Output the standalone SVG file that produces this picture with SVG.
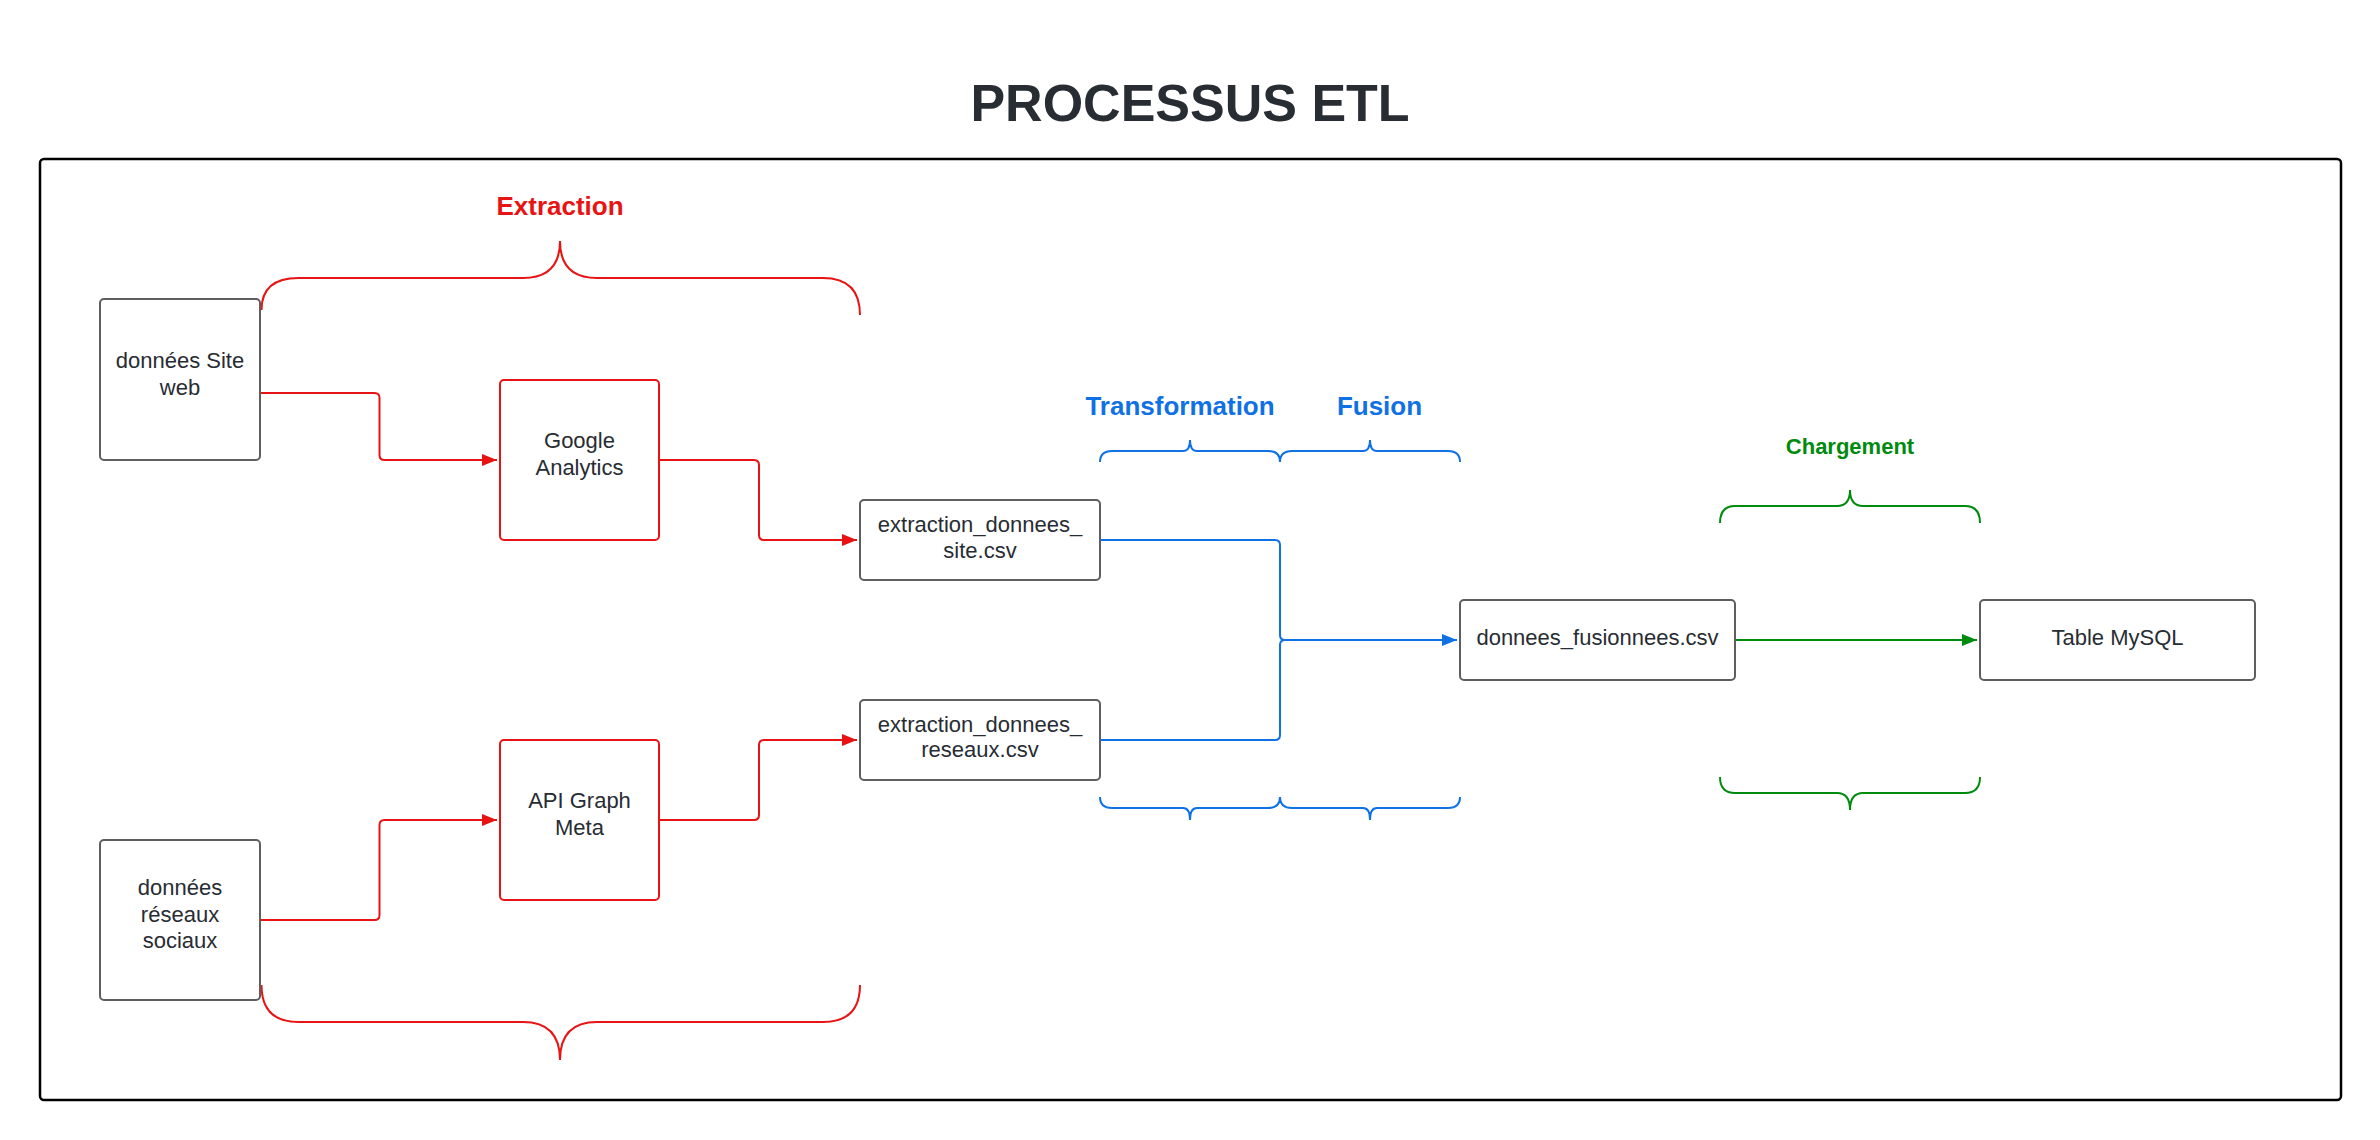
<svg xmlns="http://www.w3.org/2000/svg" width="2380" height="1140" viewBox="0 0 2380 1140">
<style>
text{font-family:"Liberation Sans",Arial,sans-serif}
.nt{font-size:22px;fill:#282c33;text-anchor:middle}
.box{fill:#fff;stroke:#5e5e5e;stroke-width:2}
.rbox{fill:#fff;stroke:#e81313;stroke-width:2}
.r{fill:none;stroke:#e81313;stroke-width:2}
.b{fill:none;stroke:#1071e5;stroke-width:2}
.g{fill:none;stroke:#008a0e;stroke-width:2}
.lbl{font-weight:bold;text-anchor:middle}
</style>
<defs>
<marker id="ar" viewBox="0 0 15 12" refX="15" refY="6" markerWidth="15" markerHeight="12" markerUnits="userSpaceOnUse" orient="auto"><path d="M0,0 L15,6 L0,12 z" fill="#e81313"/></marker>
<marker id="ab" viewBox="0 0 15 12" refX="15" refY="6" markerWidth="15" markerHeight="12" markerUnits="userSpaceOnUse" orient="auto"><path d="M0,0 L15,6 L0,12 z" fill="#1071e5"/></marker>
<marker id="ag" viewBox="0 0 15 12" refX="15" refY="6" markerWidth="15" markerHeight="12" markerUnits="userSpaceOnUse" orient="auto"><path d="M0,0 L15,6 L0,12 z" fill="#008a0e"/></marker>
</defs>
<rect width="2380" height="1140" fill="#fff"/>
<text x="1190" y="121" font-size="52" font-weight="bold" fill="#282c33" text-anchor="middle">PROCESSUS ETL</text>
<rect x="40" y="159" width="2301" height="941" rx="4" fill="none" stroke="#000" stroke-width="2.5"/>

<g id="labels">
<text class="lbl" x="560" y="215" font-size="26" fill="#e81313">Extraction</text>
<text class="lbl" x="1180" y="415" font-size="26" fill="#1071e5">Transformation</text>
<text class="lbl" x="1379.5" y="415" font-size="26" fill="#1071e5">Fusion</text>
<text class="lbl" x="1850" y="454" font-size="22" fill="#008a0e">Chargement</text>
</g>

<g id="braces">
<path class="r" d="M261.5,310 Q261.5,278 298.5,278 H523 Q560,278 560,241 Q560,278 597,278 H823 Q860,278 860,315"/>
<path class="r" d="M261.5,985 Q261.5,1022 298.5,1022 H523 Q560,1022 560,1060 Q560,1022 597,1022 H823 Q860,1022 860,985"/>
<path class="b" d="M1100,462 Q1100,451 1112,451 H1183 Q1190,451 1190,440 Q1190,451 1197,451 H1268 Q1280,451 1280,462 Q1280,451 1292,451 H1363 Q1370,451 1370,440 Q1370,451 1377,451 H1448 Q1460,451 1460,462"/>
<path class="b" d="M1100,797 Q1100,808 1112,808 H1183 Q1190,808 1190,820 Q1190,808 1197,808 H1268 Q1280,808 1280,797 Q1280,808 1292,808 H1363 Q1370,808 1370,820 Q1370,808 1377,808 H1448 Q1460,808 1460,797"/>
<path class="g" d="M1720,523 Q1720,506 1735,506 H1837 Q1850,506 1850,490 Q1850,506 1863,506 H1965 Q1980,506 1980,523"/>
<path class="g" d="M1720,777 Q1720,793 1735,793 H1837 Q1850,793 1850,810 Q1850,793 1863,793 H1965 Q1980,793 1980,777"/>
</g>

<g id="connectors">
<path class="r" marker-end="url(#ar)" d="M260,393 H374.5 Q379.5,393 379.5,398 V455 Q379.5,460 384.5,460 H497"/>
<path class="r" marker-end="url(#ar)" d="M659,460 H754 Q759,460 759,465 V535 Q759,540 764,540 H857"/>
<path class="r" marker-end="url(#ar)" d="M260,920 H374.5 Q379.5,920 379.5,915 V825 Q379.5,820 384.5,820 H497"/>
<path class="r" marker-end="url(#ar)" d="M659,820 H754 Q759,820 759,815 V745 Q759,740 764,740 H857"/>
<path class="b" marker-end="url(#ab)" d="M1100,540 H1275 Q1280,540 1280,545 V635 Q1280,640 1285,640 H1457"/>
<path class="b" d="M1100,740 H1275 Q1280,740 1280,735 V645 Q1280,640 1285,640"/>
<path class="g" marker-end="url(#ag)" d="M1735,640 H1977"/>
</g>

<g id="n-site">
<rect class="box" x="100" y="299" width="160" height="161" rx="4"/>
<text class="nt" x="180" y="368">données Site</text>
<text class="nt" x="180" y="395">web</text>
</g>
<g id="n-reseaux">
<rect class="box" x="100" y="840" width="160" height="160" rx="4"/>
<text class="nt" x="180" y="895">données</text>
<text class="nt" x="180" y="922">réseaux</text>
<text class="nt" x="180" y="948">sociaux</text>
</g>
<g id="n-ga">
<rect class="rbox" x="500" y="380" width="159" height="160" rx="4"/>
<text class="nt" x="579.5" y="448">Google</text>
<text class="nt" x="579.5" y="475">Analytics</text>
</g>
<g id="n-api">
<rect class="rbox" x="500" y="740" width="159" height="160" rx="4"/>
<text class="nt" x="579.5" y="808">API Graph</text>
<text class="nt" x="579.5" y="835">Meta</text>
</g>
<g id="n-ext-site">
<rect class="box" x="860" y="500" width="240" height="80" rx="4"/>
<text class="nt" x="980" y="532">extraction_donnees_</text>
<text class="nt" x="980" y="558">site.csv</text>
</g>
<g id="n-ext-reseaux">
<rect class="box" x="860" y="700" width="240" height="80" rx="4"/>
<text class="nt" x="980" y="732">extraction_donnees_</text>
<text class="nt" x="980" y="757">reseaux.csv</text>
</g>
<g id="n-fusion">
<rect class="box" x="1460" y="600" width="275" height="80" rx="4"/>
<text class="nt" x="1597.5" y="645">donnees_fusionnees.csv</text>
</g>
<g id="n-mysql">
<rect class="box" x="1980" y="600" width="275" height="80" rx="4"/>
<text class="nt" x="2117.5" y="645">Table MySQL</text>
</g>
</svg>
